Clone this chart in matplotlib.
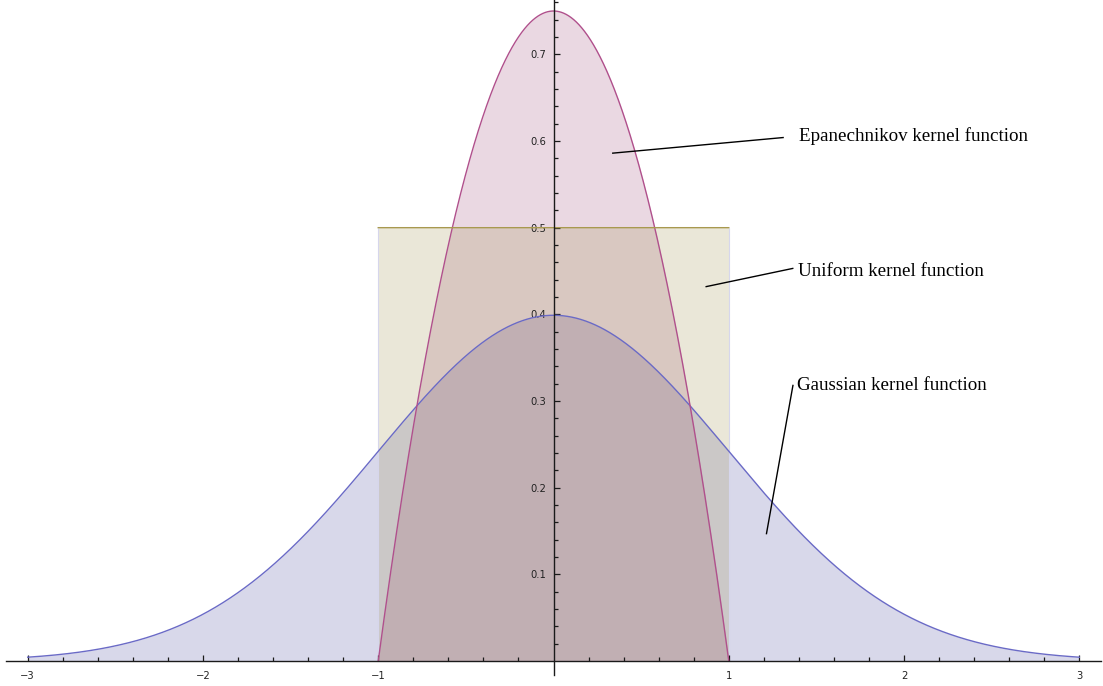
import numpy as np
import matplotlib
matplotlib.use("Agg")
import matplotlib.pyplot as plt
from matplotlib.ticker import FixedLocator, FixedFormatter
import colorsys

# ---- data / chart content ----
x_range = [-3.0, 3.0]
support = [-1.0, 1.0]
epan_peak = 0.75          # Epanechnikov: 0.75 * (1 - x^2) on [-1, 1]
uniform_height = 0.5      # Uniform: 0.5 on [-1, 1]
gauss_sigma = 1.0         # standard normal density
series_names = ["Gaussian kernel function", "Epanechnikov kernel function", "Uniform kernel function"]
series_hues = [0.67, 0.906068, 0.1412]   # Mathematica default Hue[h, 0.6, 0.6]
line_colors = ["#6a6ac6", "#b0508c", "#a8994f"]
x_ticks = [-3, -2, -1, 1, 2, 3]
x_tick_labels = ["\u22123", "\u22122", "\u22121", "1", "2", "3"]
y_ticks = [0.1, 0.2, 0.3, 0.4, 0.5, 0.6, 0.7]
y_tick_labels = ["0.1", "0.2", "0.3", "0.4", "0.5", "0.6", "0.7"]

x = np.linspace(x_range[0], x_range[1], 6001)
inside = (x >= support[0]) & (x <= support[1])
gauss = np.exp(-x**2 / (2 * gauss_sigma**2)) / (gauss_sigma * np.sqrt(2 * np.pi))
epan = np.where(inside, epan_peak * (1 - x**2), 0.0)
unif = np.where(inside, uniform_height, 0.0)
curves = [gauss, epan, unif]
fill_colors = [colorsys.hsv_to_rgb(h, 0.6, 0.6) for h in series_hues]

fig = plt.figure(figsize=(11.03, 6.86), dpi=100)
ax = fig.add_axes([0, 0, 1, 1])
ax.set_xlim(-3.158, 3.135)
ax.set_ylim(-0.0288, 0.7627)
ax.patch.set_alpha(0)

for y, c in zip(curves, fill_colors):
    ax.fill_between(x, 0, y, color=c, alpha=0.2, linewidth=0, zorder=1)

# faint edges of the uniform box
ax.vlines(support, 0, uniform_height, color="#d6d6ec", lw=0.8, zorder=1.5)

# curves: only where non-zero, jumps excluded
ax.plot(x, gauss, color=line_colors[0], lw=1.0, zorder=2)
ax.plot(x[inside], epan[inside], color=line_colors[1], lw=1.0, zorder=2)
ax.plot(x[inside], unif[inside], color=line_colors[2], lw=1.0, zorder=2)

# axes through origin
for s in ["top", "right"]:
    ax.spines[s].set_visible(False)
ax.spines["left"].set_position(("data", 0))
ax.spines["bottom"].set_position(("data", 0))
ax.spines["left"].set_bounds(-0.0165, 0.7627)
ax.spines["bottom"].set_bounds(-3.124, 3.124)
for s in ["left", "bottom"]:
    ax.spines[s].set_linewidth(1.0)
    ax.spines[s].set_color("#1a1a1a")
    ax.spines[s].set_zorder(4)

ax.xaxis.set_major_locator(FixedLocator(x_ticks))
ax.xaxis.set_major_formatter(FixedFormatter(x_tick_labels))
ax.xaxis.set_minor_locator(FixedLocator([round(v, 1) for v in np.arange(-3, 3.01, 0.2)
                                         if abs(v - round(v)) > 1e-6]))
ax.yaxis.set_major_locator(FixedLocator(y_ticks))
ax.yaxis.set_major_formatter(FixedFormatter(y_tick_labels))
ax.yaxis.set_minor_locator(FixedLocator([round(v, 2) for v in np.arange(0.02, 0.77, 0.02)
                                         if abs(v * 10 - round(v * 10)) > 1e-6]))
ax.tick_params(axis="both", which="major", direction="in", length=4.3, width=0.9, color="#1a1a1a")
ax.tick_params(axis="both", which="minor", direction="in", length=2.7, width=0.9, color="#1a1a1a")
ax.tick_params(axis="x", which="major", pad=7)
ax.tick_params(axis="y", which="major", pad=5)
for lab in ax.get_xticklabels() + ax.get_yticklabels():
    lab.set_fontfamily("DejaVu Sans")
    lab.set_fontsize(7.2)
    lab.set_color("#222222")

# annotations
label_font = dict(family="Liberation Serif", size=13.7)
ann = [
    (series_names[1], (0.338, 0.586), (1.310, 0.604), (1.400, 0.606)),
    (series_names[2], (0.871, 0.432), (1.365, 0.453), (1.393, 0.450)),
    (series_names[0], (1.215, 0.147), (1.366, 0.318), (1.388, 0.318)),
]
for text, p0, p1, pt in ann:
    ax.plot([p0[0], p1[0]], [p0[1], p1[1]], color="black", lw=1.0, zorder=5)
    ax.text(pt[0], pt[1], text, ha="left", va="center", zorder=5, **label_font)

fig.savefig("out.png", dpi=100)
